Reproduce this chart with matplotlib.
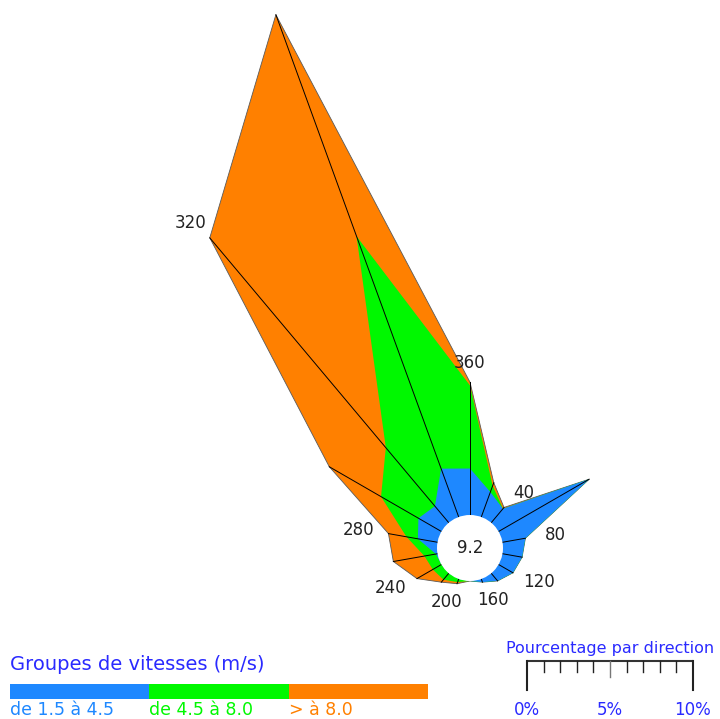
import numpy as np
import matplotlib
matplotlib.use("Agg")
import matplotlib.pyplot as plt
from matplotlib.patches import Polygon, Circle, Rectangle

# Wind directions (degrees, clockwise from north)
directions = np.arange(0, 360, 20)

# Frequency (%) per direction for each speed class
blue_pct = [2.8, 1.6, 1.1, 6.3, 1.4, 1.2, 1.0, 0.6, 0.2, 0.0,
            0.0, 0.0, 0.0, 0.1, 1.2, 1.6, 1.3, 3.1]
green_pct = [5.0, 0.4, 0.0, 0.0, 0.0, 0.0, 0.0, 0.0, 0.0, 0.0,
             0.2, 0.5, 0.6, 0.7, 0.7, 2.6, 4.6, 14.9]
orange_pct = [0.2, 0.2, 0.1, 0.0, 0.0, 0.0, 0.0, 0.0, 0.0, 0.0,
              0.1, 0.2, 1.1, 1.9, 1.1, 3.6, 16.5, 14.2]
calm_pct = 9.2

class_labels = ["de 1.5 à 4.5", "de 4.5 à 8.0", "> à 8.0"]
class_colors = ["#1e88ff", "#00f800", "#ff8000"]
label_directions = [360, 40, 80, 120, 160, 200, 240, 280, 320]
scale_ticks = np.arange(0, 11)
scale_labels = {0: "0%", 5: "5%", 10: "10%"}

W, H, DPI = 720, 719, 100
fig = plt.figure(figsize=(W / DPI, H / DPI), dpi=DPI)
ax = fig.add_axes([0, 0, 1, 1])

# data units are percent; one percent = px_per_pct pixels
px_per_pct = 16.6
cx, cy = 470, 548          # rose centre, pixels from top-left
ax.set_xlim(-cx / px_per_pct, (W - cx) / px_per_pct)
ax.set_ylim(-(H - cy) / px_per_pct, cy / px_per_pct)
ax.set_aspect("equal")
ax.axis("off")

inner = 33 / px_per_pct    # radius of the calm circle
theta = np.deg2rad(directions)
cum = np.cumsum([blue_pct, green_pct, orange_pct], axis=0)

# stacked polygons, outermost class first
for level in (2, 1, 0):
    r = inner + cum[level]
    pts = np.column_stack([r * np.sin(theta), r * np.cos(theta)])
    edge = "#5a5a5a" if level == 2 else "none"
    ax.add_patch(Polygon(pts, closed=True, facecolor=class_colors[level],
                         edgecolor=edge, linewidth=0.6, zorder=1 + (2 - level)))

# spokes from the calm circle to the outer vertex
total = cum[2]
for t, rt in zip(theta, total):
    ax.plot([inner * np.sin(t), (inner + rt) * np.sin(t)],
            [inner * np.cos(t), (inner + rt) * np.cos(t)],
            color="black", linewidth=0.7, zorder=5)

# calm circle
ax.add_patch(Circle((0, 0), inner, facecolor="white", edgecolor="none", zorder=6))
ax.text(0, 0, f"{calm_pct}", ha="center", va="center", fontsize=12,
        color="#222222", zorder=7)

# direction labels just beyond the outer vertex
for d in label_directions:
    idx = int((d % 360) / 20)
    t = np.deg2rad(d)
    r = inner + total[idx]
    lx = r * np.sin(t) + 30 / px_per_pct * np.sin(t)
    ly = r * np.cos(t) + 19 / px_per_pct * np.cos(t)
    ax.text(lx, ly, str(d), ha="center", va="center",
            fontsize=12, color="#222222", zorder=7)

# speed-class legend
def fx(px):
    return px / W

def fy(py):
    return 1 - py / H

fig.text(fx(10), fy(665), "Groupes de vitesses (m/s)", ha="left", va="center",
         fontsize=14, color="#2a2aff")
bar_x0, bar_w = 10, 139.3
for i, (lab, col) in enumerate(zip(class_labels, class_colors)):
    x0 = bar_x0 + i * bar_w
    fig.patches.append(Rectangle((fx(x0), fy(699)), bar_w / W, 15 / H,
                                 transform=fig.transFigure, facecolor=col,
                                 edgecolor="none"))
    fig.text(fx(x0), fy(710), lab, ha="left", va="center", fontsize=12.5,
             color=col)

# percentage scale bar, drawn in the rose's own units
sx0 = (527 - cx) / px_per_pct
sy = -(661 - cy) / px_per_pct
ax.plot([sx0, sx0 + 10], [sy, sy], color="#333333", linewidth=1.5,
        solid_capstyle="butt", clip_on=False)
for k in scale_ticks:
    if k in (0, 10):
        length, col, lw = 29, "#222222", 1.5
    elif k == 5:
        length, col, lw = 16, "#777777", 1.0
    else:
        length, col, lw = 11, "#222222", 1.0
    ax.plot([sx0 + k, sx0 + k], [sy, sy - length / px_per_pct], color=col,
            linewidth=lw, clip_on=False)
for k, lab in scale_labels.items():
    ax.text(sx0 + k, -(710 - cy) / px_per_pct, lab, ha="center", va="center",
            fontsize=12, color="#2a2aff")
ax.text(sx0 + 5, -(648 - cy) / px_per_pct, "Pourcentage par direction",
        ha="center", va="center", fontsize=11.5, color="#2a2aff")

fig.savefig("out.png", dpi=DPI, facecolor="white")
